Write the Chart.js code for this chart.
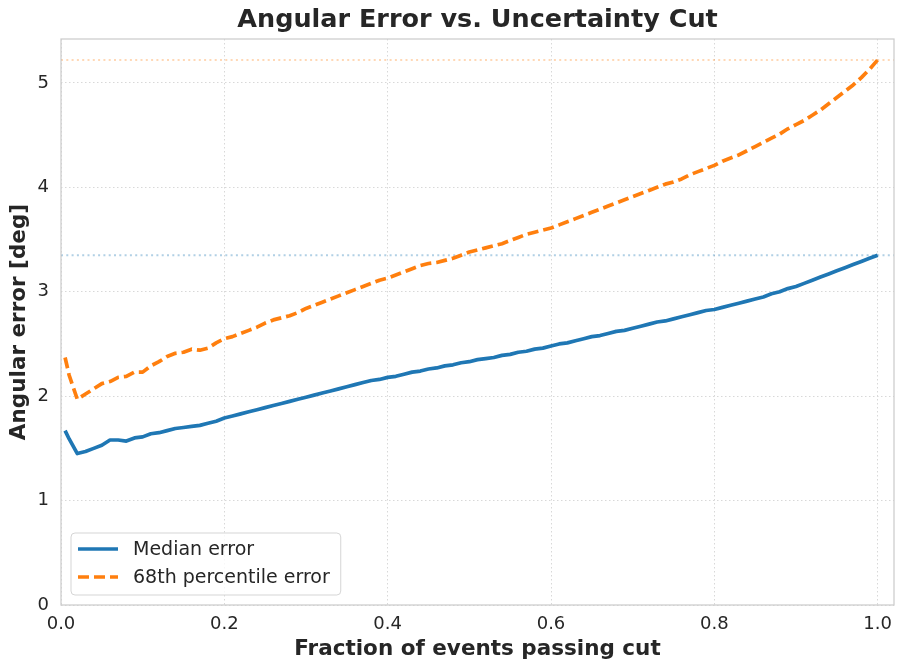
<!DOCTYPE html>
<html>
<head>
<meta charset="utf-8">
<script src="https://cdn.jsdelivr.net/npm/chart.js@4.4.1/dist/chart.umd.min.js"></script>
<style>
  html, body { margin: 0; padding: 0; background: #fff; }
</style>
</head>
<body>
<canvas id="chart" width="897" height="663"></canvas>
<script>
// fraction of events kept after the uncertainty cut
const fractions = [
  0.005, 0.01, 0.02, 0.03, 0.04, 0.05, 0.06, 0.07, 0.08, 0.09,
  0.10, 0.11, 0.12, 0.13, 0.14, 0.15, 0.16, 0.17, 0.18, 0.19,
  0.20, 0.21, 0.22, 0.23, 0.24, 0.25, 0.26, 0.27, 0.28, 0.29,
  0.30, 0.31, 0.32, 0.33, 0.34, 0.35, 0.36, 0.37, 0.38, 0.39,
  0.40, 0.41, 0.42, 0.43, 0.44, 0.45, 0.46, 0.47, 0.48, 0.49,
  0.50, 0.51, 0.52, 0.53, 0.54, 0.55, 0.56, 0.57, 0.58, 0.59,
  0.60, 0.61, 0.62, 0.63, 0.64, 0.65, 0.66, 0.67, 0.68, 0.69,
  0.70, 0.71, 0.72, 0.73, 0.74, 0.75, 0.76, 0.77, 0.78, 0.79,
  0.80, 0.81, 0.82, 0.83, 0.84, 0.85, 0.86, 0.87, 0.88, 0.89,
  0.90, 0.91, 0.92, 0.93, 0.94, 0.95, 0.96, 0.97, 0.98, 0.99,
  1.00
];

// median angular error [deg]
const medianErr = [
  1.67, 1.59, 1.45, 1.47, 1.50, 1.53, 1.58, 1.58, 1.57, 1.60,
  1.61, 1.64, 1.65, 1.67, 1.69, 1.70, 1.71, 1.72, 1.74, 1.76,
  1.79, 1.81, 1.83, 1.85, 1.87, 1.89, 1.91, 1.93, 1.95, 1.97,
  1.99, 2.01, 2.03, 2.05, 2.07, 2.09, 2.11, 2.13, 2.15, 2.16,
  2.18, 2.19, 2.21, 2.23, 2.24, 2.26, 2.27, 2.29, 2.30, 2.32,
  2.33, 2.35, 2.36, 2.37, 2.39, 2.40, 2.42, 2.43, 2.45, 2.46,
  2.48, 2.50, 2.51, 2.53, 2.55, 2.57, 2.58, 2.60, 2.62, 2.63,
  2.65, 2.67, 2.69, 2.71, 2.72, 2.74, 2.76, 2.78, 2.80, 2.82,
  2.83, 2.85, 2.87, 2.89, 2.91, 2.93, 2.95, 2.98, 3.00, 3.03,
  3.05, 3.08, 3.11, 3.14, 3.17, 3.20, 3.23, 3.26, 3.29, 3.32,
  3.35
];

// 68th percentile angular error [deg]
const p68Err = [
  2.37, 2.20, 1.97, 2.02, 2.07, 2.12, 2.14, 2.18, 2.19, 2.23,
  2.23, 2.29, 2.33, 2.38, 2.41, 2.42, 2.45, 2.44, 2.46, 2.51,
  2.55, 2.57, 2.60, 2.63, 2.66, 2.70, 2.73, 2.75, 2.77, 2.80,
  2.84, 2.87, 2.90, 2.93, 2.96, 2.99, 3.02, 3.05, 3.08, 3.11,
  3.13, 3.16, 3.19, 3.22, 3.25, 3.27, 3.28, 3.30, 3.32, 3.35,
  3.38, 3.40, 3.42, 3.44, 3.46, 3.49, 3.52, 3.55, 3.57, 3.59,
  3.61, 3.64, 3.67, 3.70, 3.73, 3.76, 3.79, 3.82, 3.85, 3.88,
  3.91, 3.94, 3.97, 4.00, 4.03, 4.05, 4.08, 4.12, 4.15, 4.18,
  4.21, 4.25, 4.28, 4.31, 4.35, 4.39, 4.43, 4.47, 4.51, 4.56,
  4.60, 4.64, 4.69, 4.74, 4.80, 4.86, 4.92, 4.98, 5.05, 5.13,
  5.22
];

// reference levels with no cut applied
const fullMedian = 3.35;
const fullP68 = 5.22;

const xRange = [0, 1.02];
const yRange = [0, 5.42];

const BLUE = '#1f77b4';
const ORANGE = '#ff7f0e';
const INK = '#262626';
const FONT = '"DejaVu Sans", sans-serif';
const TITLE = 'Angular Error vs. Uncertainty Cut';

const toPoints = ys => fractions.map((f, i) => ({ x: f, y: ys[i] }));
const flat = v => xRange.map(x => ({ x: x, y: v }));

// title centred over the plot area, plus the frame around it
const frame = {
  id: 'frame',
  afterDatasetsDraw(chart) {
    const { ctx, chartArea: a } = chart;
    ctx.save();
    ctx.strokeStyle = '#cccccc';
    ctx.lineWidth = 1.25;
    ctx.strokeRect(a.left, a.top, a.right - a.left, a.bottom - a.top);
    ctx.font = 'bold 25.5px ' + FONT;
    ctx.fillStyle = INK;
    ctx.textAlign = 'center';
    ctx.textBaseline = 'middle';
    ctx.fillText(TITLE, (a.left + a.right) / 2, 20);
    ctx.restore();
  }
};

// legend box in the lower left corner of the plot
const cornerLegend = {
  id: 'cornerLegend',
  afterDraw(chart) {
    const { ctx, chartArea } = chart;
    const items = chart.data.datasets.filter(d => d.inLegend);
    ctx.save();
    ctx.font = '19px ' + FONT;
    const textW = Math.max(...items.map(d => ctx.measureText(d.label).width));
    const rowH = 28, pad = 7, sample = 40, gap = 15;
    const w = pad + sample + gap + textW + 11;
    const h = items.length * rowH + 6;
    const x = chartArea.left + 10;
    const y = chartArea.bottom - 10 - h;
    ctx.beginPath();
    ctx.roundRect(x, y, w, h, 4);
    ctx.fillStyle = 'rgba(255,255,255,0.8)';
    ctx.fill();
    ctx.strokeStyle = '#d5d5d5';
    ctx.lineWidth = 1;
    ctx.stroke();
    items.forEach((d, i) => {
      const cy = y + 2 + rowH * (i + 0.5);
      ctx.beginPath();
      ctx.setLineDash(d.borderDash || []);
      ctx.lineCap = 'butt';
      ctx.strokeStyle = d.borderColor;
      ctx.lineWidth = d.borderWidth;
      ctx.moveTo(x + pad, cy);
      ctx.lineTo(x + pad + sample, cy);
      ctx.stroke();
      ctx.setLineDash([]);
      ctx.fillStyle = INK;
      ctx.textBaseline = 'middle';
      ctx.fillText(d.label, x + pad + sample + gap, cy + 1);
    });
    ctx.restore();
  }
};

new Chart(document.getElementById('chart'), {
  type: 'line',
  data: {
    datasets: [
      {
        label: 'Median error',
        data: toPoints(medianErr),
        borderColor: BLUE,
        borderWidth: 3.7,
        borderJoinStyle: 'round',
        inLegend: true
      },
      {
        label: '68th percentile error',
        data: toPoints(p68Err),
        borderColor: ORANGE,
        borderWidth: 3.7,
        borderDash: [11, 5],
        borderJoinStyle: 'round',
        inLegend: true
      },
      {
        label: 'all events, median',
        data: flat(fullMedian),
        borderColor: 'rgba(31,119,180,0.35)',
        borderWidth: 2,
        borderDash: [2, 3.3]
      },
      {
        label: 'all events, 68th',
        data: flat(fullP68),
        borderColor: 'rgba(255,127,14,0.3)',
        borderWidth: 2,
        borderDash: [2, 3.3]
      }
    ]
  },
  options: {
    responsive: false,
    animation: false,
    devicePixelRatio: 1,
    layout: { padding: { left: 0, right: 3, top: 39, bottom: 0 } },
    elements: { point: { radius: 0 }, line: { tension: 0 } },
    plugins: {
      legend: { display: false },
      tooltip: { enabled: false },
      title: { display: false }
    },
    scales: {
      x: {
        type: 'linear',
        min: xRange[0],
        max: xRange[1],
        afterFit: s => { s.height = 58; s.paddingLeft = 0; s.paddingRight = 0; },
        grid: { color: '#d8d8d8', lineWidth: 1, drawTicks: false },
        border: { display: false, dash: [1.5, 2.5] },
        ticks: {
          stepSize: 0.2,
          includeBounds: false,
          padding: 9,
          color: INK,
          font: { family: FONT, size: 18 },
          callback: v => v.toFixed(1)
        },
        title: {
          display: true,
          text: 'Fraction of events passing cut',
          color: INK,
          font: { family: FONT, size: 21.5, weight: 'bold' },
          padding: { top: 0, bottom: 1 }
        }
      },
      y: {
        type: 'linear',
        min: yRange[0],
        max: yRange[1],
        afterFit: s => { s.width = 61; s.paddingTop = 0; s.paddingBottom = 0; },
        grid: { color: '#d8d8d8', lineWidth: 1, drawTicks: false },
        border: { display: false, dash: [1.5, 2.5] },
        ticks: {
          stepSize: 1,
          includeBounds: false,
          padding: 12,
          color: INK,
          font: { family: FONT, size: 18 }
        },
        title: {
          display: true,
          text: 'Angular error [deg]',
          color: INK,
          font: { family: FONT, size: 21.5, weight: 'bold' },
          padding: { top: 7, bottom: 0 }
        }
      }
    }
  },
  plugins: [frame, cornerLegend]
});
</script>
</body>
</html>
